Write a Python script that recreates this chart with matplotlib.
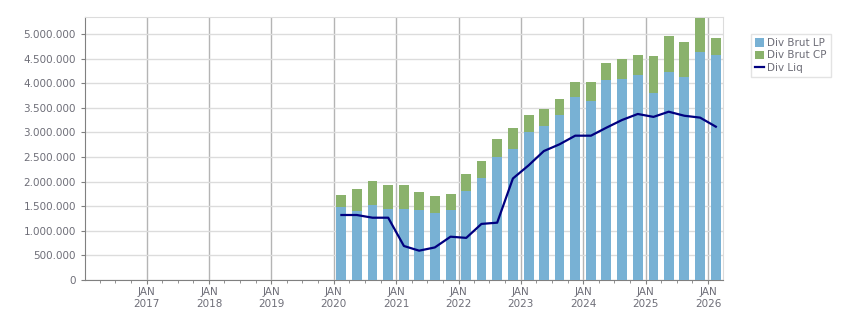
import matplotlib
matplotlib.use("Agg")
import matplotlib.dates as mdates
import matplotlib.pyplot as plt
import numpy as np
import pandas as pd
from matplotlib.ticker import FuncFormatter, MultipleLocator

# quarterly points, mid-quarter dates
dates = pd.to_datetime([
    "2020-02-15", "2020-05-15", "2020-08-15", "2020-11-15",
    "2021-02-15", "2021-05-15", "2021-08-15", "2021-11-15",
    "2022-02-15", "2022-05-15", "2022-08-15", "2022-11-15",
    "2023-02-15", "2023-05-15", "2023-08-15", "2023-11-15",
    "2024-02-15", "2024-05-15", "2024-08-15", "2024-11-15",
    "2025-02-15", "2025-05-15", "2025-08-15", "2025-11-15",
    "2026-02-15",
])
div_brut_lp = [1484000, 1396000, 1524000, 1443000, 1443000, 1423000, 1362000, 1423000,
               1809000, 2080000, 2500000, 2663000, 3008000, 3130000, 3354000, 3713000,
               3638000, 4065000, 4085000, 4167000, 3801000, 4228000, 4126000, 4634000,
               4573000]
div_brut_cp = [244000, 454000, 488000, 488000, 488000, 366000, 345000, 325000,
               345000, 339000, 366000, 426000, 346000, 346000, 325000, 318000,
               393000, 346000, 407000, 406000, 752000, 731000, 711000, 691000,
               346000]
div_liq = [1321000, 1321000, 1266000, 1266000, 691000, 596000, 662000, 880000,
           856000, 1140000, 1165000, 2063000, 2330000, 2620000, 2758000, 2933000,
           2933000, 3095000, 3252000, 3374000, 3315000, 3420000, 3338000, 3300000,
           3116000]
labels = ["Div Brut LP", "Div Brut CP", "Div Liq"]

BLUE = "#78b1d4"
GREEN = "#8ab26c"
NAVY = "#000080"
TEXT = "#6e6e78"
GRID = "#dcdcdc"

fig = plt.figure(figsize=(8.51, 3.13), dpi=100)
ax = fig.add_axes([85 / 851, 1 - 280 / 313, (723 - 85) / 851, (280 - 17) / 313])

width = pd.Timedelta(days=58)
lp = ax.bar(dates, div_brut_lp, width=width, color=BLUE, zorder=3)
cp = ax.bar(dates, div_brut_cp, width=width, bottom=div_brut_lp, color=GREEN, zorder=3)
liq, = ax.plot(dates, div_liq, color=NAVY, linewidth=1.6, zorder=4)

ax.set_xlim(pd.Timestamp("2016-01-06"), pd.Timestamp("2026-03-29"))
ax.set_ylim(0, 5345000)

ax.yaxis.set_major_locator(MultipleLocator(500000))
ax.yaxis.set_major_formatter(FuncFormatter(lambda v, _: f"{int(v):,}".replace(",", ".")))
ax.xaxis.set_major_locator(mdates.YearLocator())
ax.xaxis.set_minor_locator(mdates.MonthLocator(bymonth=[4, 7, 10]))
ax.xaxis.set_major_formatter(mdates.DateFormatter("JAN\n%Y"))

ax.grid(True, axis="y", color=GRID, linewidth=1, zorder=0)
ax.grid(True, axis="x", which="major", color="#b4b4b4", linewidth=1, zorder=0)
ax.set_axisbelow(True)

for side in ["top", "right"]:
    ax.spines[side].set_color(GRID)
for side in ["left", "bottom"]:
    ax.spines[side].set_color("#808080")
ax.tick_params(axis="both", which="major", length=3, color="#808080",
               labelcolor=TEXT, labelsize=7.5)
ax.tick_params(axis="x", which="minor", length=2, color="#808080")
ax.tick_params(axis="x", which="major", pad=2)

fig.legend([lp, cp, liq], labels, loc="upper left",
           bbox_to_anchor=(746 / 851, 1 - 29 / 313),
           fontsize=7.5, frameon=True, fancybox=False, edgecolor=GRID,
           handlelength=0.9, handleheight=0.9, handletextpad=0.3,
           labelspacing=0.25, borderpad=0.35, labelcolor=TEXT)

fig.savefig("out.png", dpi=100)
